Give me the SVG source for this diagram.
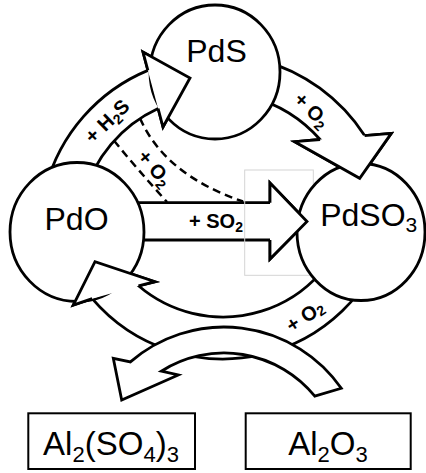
<svg xmlns="http://www.w3.org/2000/svg" width="426" height="473" viewBox="0 0 426 473">
<style>
.ar{fill:#fff;stroke:#000;stroke-width:2.8;stroke-linejoin:miter}
.nd{fill:#fff;stroke:#000;stroke-width:2.8}
.bx{fill:#fff;stroke:#000;stroke-width:2}
.ds{fill:none;stroke:#000;stroke-width:2.5;stroke-dasharray:8 5}
.t{font-family:"Liberation Sans",Arial,sans-serif;fill:#000}
.big{font-size:32px}
.box{font-size:33px}
.sb{font-size:21px}
.sb2{font-size:22px}
.lbl{font-size:20px;font-weight:bold}
.ls{font-size:14px}
</style>
<rect width="426" height="473" fill="#fff"/>
<g id="connectors">
<path id="arrow-h2s" class="ar" d="M46,186.7 A175,175 0 0 1 147.9,70.4 L143,52 L190,78 L163,127 L158.1,108.5 A136,136 0 0 0 83.6,196.8 Z"/>
<path id="arrow-o2-top" class="ar" d="M261.1,60.1 A178,178 0 0 1 364.6,135.6 L391.3,133.3 L359.7,178.3 L294.7,141.7 L320.1,139.5 A140,140 0 0 0 251.2,96.8 Z"/>
<path id="arrow-so2" class="ar" d="M110,202.7 L270,202.7 L270,183 L307,221.5 L270,259 L270,240 L110,240 Z"/>
<path id="arrow-o2-bottom" class="ar" d="M389.1,231.5 A172,172 0 0 1 92.2,298.7 L73.3,305 L95,261.7 L155,281.7 L138.5,285.8 A130,130 0 0 0 348.6,220.6 Z"/>
<path id="arrow-al" class="ar" d="M341.3,388.3 A143,143 0 0 0 130.4,361.9 L113.3,358.3 L121.7,400 L178.3,375 L161.3,371.2 A117,117 0 0 1 314.8,396.2 Z"/>
<path class="ds" d="M114.1,140.8 Q138,170 167,202"/>
<path class="ds" d="M140,118.3 Q165,175 243,201.5"/>
<rect x="244.7" y="170" width="68.6" height="105.3" fill="none" stroke="#d4d4d4" stroke-width="1"/>
</g>
<g id="node-pds"><ellipse class="nd" cx="215" cy="72" rx="65" ry="67"/><text class="t big" x="216.5" y="62" text-anchor="middle">PdS</text></g>
<g id="node-pdo"><ellipse class="nd" cx="77" cy="232" rx="67" ry="69.5"/><text class="t big" x="76.5" y="230" text-anchor="middle">PdO</text></g>
<g id="node-pdso3"><ellipse class="nd" cx="361" cy="232" rx="64" ry="68.5"/><text class="t big" x="368.7" y="226" text-anchor="middle">PdSO<tspan class="sb" dy="6">3</tspan></text></g>
<g id="heads">
<path class="ar" d="M147.9,70.4 L143,52 L190,78 L163,127 L158.1,108.5"/>
<path class="ar" d="M364.6,135.6 L391.3,133.3 L359.7,178.3 L294.7,141.7 L320.1,139.5"/>
<path class="ar" d="M270,202.7 L270,183 L307,221.5 L270,259 L270,240"/>
<path class="ar" d="M92.2,298.7 L73.3,305 L95,261.7 L155,281.7 L138.5,285.8"/>
</g>
<g id="labels">
<g transform="translate(107,121) rotate(-44)"><text class="t lbl" x="0" y="7" text-anchor="middle">+ H<tspan class="ls" dy="4">2</tspan><tspan dy="-4">S</tspan></text></g>
<g transform="translate(312,110) rotate(45)"><text class="t lbl" x="0" y="7" text-anchor="middle">+ O<tspan class="ls" dy="4">2</tspan></text></g>
<g transform="translate(155,168) rotate(50)"><text class="t lbl" x="0" y="7" text-anchor="middle">+ O<tspan class="ls" dy="4">2</tspan></text></g>
<g transform="translate(305,316) rotate(-33)"><text class="t lbl" x="0" y="7" text-anchor="middle">+ O<tspan class="ls" dy="2">2</tspan></text></g>
<text class="t lbl" x="216" y="228" text-anchor="middle">+ SO<tspan class="ls" dy="4">2</tspan></text>
</g>
<g id="node-al2so43"><rect class="bx" x="28.3" y="413.3" width="166.7" height="55.7"/><text class="t box" x="111" y="455" text-anchor="middle">Al<tspan class="sb2" dy="7">2</tspan><tspan dy="-7">(SO</tspan><tspan class="sb2" dy="7">4</tspan><tspan dy="-7">)</tspan><tspan class="sb2" dy="7">3</tspan></text></g>
<g id="node-al2o3"><rect class="bx" x="245.7" y="413.3" width="165" height="55.7"/><text class="t box" x="328" y="455" text-anchor="middle">Al<tspan class="sb2" dy="7">2</tspan><tspan dy="-7">O</tspan><tspan class="sb2" dy="7">3</tspan></text></g>
</svg>
